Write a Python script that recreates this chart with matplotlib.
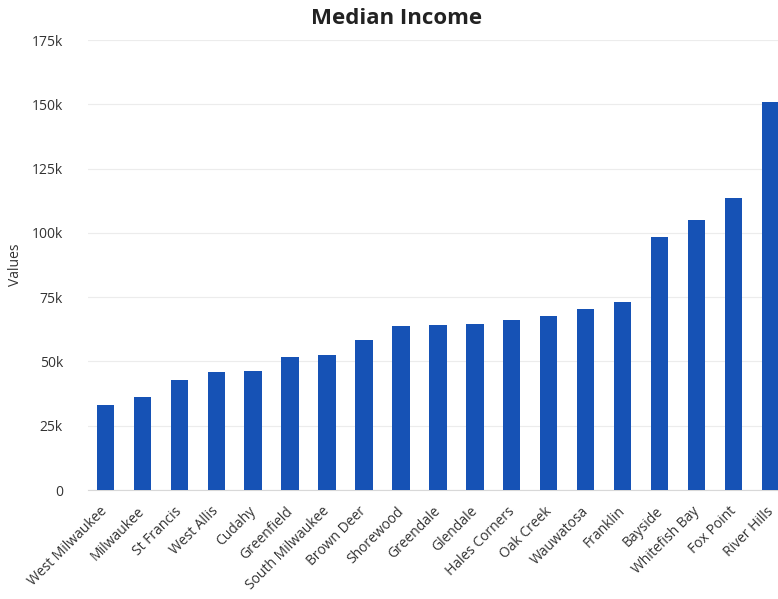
import matplotlib
matplotlib.use('Agg')
import matplotlib.pyplot as plt
import matplotlib.transforms as mtransforms
from matplotlib.ticker import FuncFormatter

# median household income by municipality
places = ['West Milwaukee', 'Milwaukee', 'St Francis', 'West Allis', 'Cudahy',
          'Greenfield', 'South Milwaukee', 'Brown Deer', 'Shorewood', 'Greendale',
          'Glendale', 'Hales Corners', 'Oak Creek', 'Wauwatosa', 'Franklin',
          'Bayside', 'Whitefish Bay', 'Fox Point', 'River Hills']
income = [33000, 36200, 42800, 45900, 46300, 51700, 52500, 58300, 63800, 64200,
          64500, 66100, 67700, 70400, 73100, 98500, 105000, 113700, 150700]
y_ticks = [0, 25000, 50000, 75000, 100000, 125000, 150000, 175000]

plt.rcParams['font.family'] = ['Open Sans', 'DejaVu Sans']

fig = plt.figure(figsize=(7.78, 5.99), dpi=100)
ax = fig.add_axes([88 / 778, 109 / 599, 690 / 778, 450 / 599])

x = range(len(places))
ax.bar(x, income, width=0.46, color='#1652b5', zorder=3)

ax.set_xlim(-0.46, 18.19)
ax.set_ylim(0, 175000)
ax.set_yticks(y_ticks)
ax.yaxis.set_major_formatter(FuncFormatter(lambda v, p: '0' if v == 0 else '%dk' % (v / 1000)))
ax.set_xticks(list(x))
ax.set_xticklabels(places, rotation=45, ha='right', rotation_mode='anchor',
                   fontsize=10, color='#333333')
ax.tick_params(axis='y', length=0, pad=18, labelsize=10, labelcolor='#333333')
ax.tick_params(axis='x', length=0, pad=10)

# nudge the rotated labels a little to the left, like the original
shift = mtransforms.ScaledTranslation(-5 / 100, 0, fig.dpi_scale_trans)
for lbl in ax.get_xticklabels():
    lbl.set_transform(lbl.get_transform() + shift)

ax.grid(axis='y', color='#ececec', linewidth=0.8, zorder=0)
for side in ['top', 'right', 'left']:
    ax.spines[side].set_visible(False)
ax.spines['bottom'].set_color('#d8d8d8')

ax.set_ylabel('Values', fontsize=10, color='#333333', labelpad=6)
fig.text(397 / 778, 1 - 18 / 599, 'Median Income', ha='center', va='center',
         fontsize=16, fontweight='bold', color='#222222')

fig.savefig('out.png', dpi=100)
plt.close()
